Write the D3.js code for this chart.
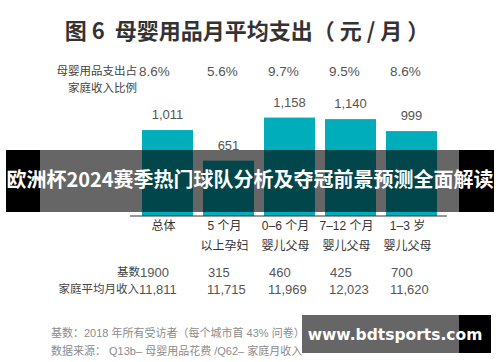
<!DOCTYPE html>
<html>
<head>
<meta charset="utf-8">
<script src="https://cdn.jsdelivr.net/npm/d3@7"></script>
<style>
  body { margin: 0; background: #fff; }
  text { font-family: "Liberation Sans", "Noto Sans CJK SC", sans-serif; white-space: pre; }
</style>
</head>
<body>
<script>
// chart data
const catLine1 = ["总体", "5 个月", "0–6 个月", "7–12 个月", "1–3 岁"];
const catLine2 = ["", "以上孕妇", "婴儿父母", "婴儿父母", "婴儿父母"];
const spend = [1011, 651, 1158, 1140, 999];
const share = ["8.6%", "5.6%", "9.7%", "9.5%", "8.6%"];
const base = [1900, 315, 460, 425, 700];
const income = [11811, 11715, 11969, 12023, 11620];

const width = 500;
const height = 362;

const svg = d3.select("body").append("svg").attr("width", width).attr("height", height);

//Title
svg.append("text")
  .attr("x", 247).attr("y", 39)
  .attr("text-anchor", "middle")
  .attr("font-size", 22).attr("font-weight", "bold")
  .attr("fill", "#333")
  .style("font-family", "'Noto Sans CJK SC', sans-serif")
  .text("图 6  母婴用品月平均支出（ 元 / 月 ）");

//Scales
const xScale = d3.scaleBand()
  .domain(d3.range(catLine1.length))
  .range([137, 442])
  .paddingInner(0.164)
  .paddingOuter(0.082);

const yScale = d3.scaleLinear().domain([0, 1200]).range([216, 114]);

const numFmt = d3.format(",");
const colStart = (i) => (i === 0 ? xScale(i) - 3 : xScale(i) + 4);

//Share row
svg.append("text").attr("x", 137).attr("y", 75).attr("text-anchor", "end")
  .attr("font-size", 11.5).attr("fill", "#444").text("母婴用品支出占");
svg.append("text").attr("x", 137).attr("y", 92).attr("text-anchor", "end")
  .attr("font-size", 11.5).attr("fill", "#444").text("家庭收入比例");
svg.selectAll(".share").data(share).enter().append("text")
  .attr("class", "share")
  .attr("x", (d, i) => colStart(i))
  .attr("y", 76)
  .attr("font-size", 13.5).attr("fill", "#555")
  .text((d) => d);

//Bars
svg.selectAll(".bar").data(spend).enter().append("rect")
  .attr("class", "bar")
  .attr("x", (d, i) => xScale(i))
  .attr("y", (d) => yScale(d))
  .attr("width", xScale.bandwidth())
  .attr("height", (d) => yScale(0) - yScale(d))
  .attr("fill", "#00aebb");

svg.selectAll(".val").data(spend).enter().append("text")
  .attr("class", "val")
  .attr("x", (d, i) => xScale(i) + xScale.bandwidth() / 2)
  .attr("y", (d) => yScale(d) - 11)
  .attr("text-anchor", "middle")
  .attr("font-size", 13).attr("fill", "#555")
  .text((d) => numFmt(d));

//Axis line
svg.append("line")
  .attr("x1", xScale.range()[0] - 7).attr("x2", xScale.range()[1] + 5)
  .attr("y1", yScale(0)).attr("y2", yScale(0))
  .attr("stroke", "#333").attr("stroke-width", 1);

//Category labels
catLine1.forEach((c, i) => {
  const cx = xScale(i) + xScale.bandwidth() / 2 - 4;
  svg.append("text").attr("x", cx).attr("y", 230).attr("text-anchor", "middle")
    .attr("font-size", 12).attr("fill", "#333").text(c);
  if (catLine2[i]) {
    svg.append("text").attr("x", cx).attr("y", 250).attr("text-anchor", "middle")
      .attr("font-size", 12).attr("fill", "#333").text(catLine2[i]);
  }
});

//Base and income rows
svg.append("text").attr("x", 140).attr("y", 276).attr("text-anchor", "end")
  .attr("font-size", 11.5).attr("fill", "#444").text("基数");
svg.append("text").attr("x", 139).attr("y", 293).attr("text-anchor", "end")
  .attr("font-size", 11.5).attr("fill", "#444").text("家庭平均月收入");
svg.selectAll(".base").data(base).enter().append("text")
  .attr("class", "base")
  .attr("x", (d, i) => colStart(i) + 1)
  .attr("y", 277)
  .attr("font-size", 13).attr("fill", "#555")
  .text((d) => d);
svg.selectAll(".inc").data(income).enter().append("text")
  .attr("class", "inc")
  .attr("x", (d, i) => colStart(i))
  .attr("y", 294)
  .attr("font-size", 13).attr("fill", "#555")
  .text((d) => numFmt(d));

//Footnotes
svg.append("text").attr("x", 51).attr("y", 337)
  .attr("font-size", 11).attr("fill", "#8c8c8c")
  .text("基数：2018 年所有受访者（每个城市首 43% 问卷）");
svg.append("text").attr("x", 51).attr("y", 355)
  .attr("font-size", 11).attr("fill", "#8c8c8c")
  .text("数据来源： Q13b– 母婴用品花费 /Q62– 家庭月收入");

//Banner overlay
svg.append("rect").attr("x", 6).attr("y", 150).attr("width", 34).attr("height", 62).attr("fill", "#000");
svg.append("rect").attr("x", 459).attr("y", 150).attr("width", 35).attr("height", 62).attr("fill", "#000");
svg.append("rect").attr("x", 40).attr("y", 150).attr("width", 419).attr("height", 62).attr("fill", "rgba(0,0,0,0.6)");
svg.append("text").attr("x", 250).attr("y", 187).attr("text-anchor", "middle")
  .attr("font-size", 20).attr("font-weight", "bold").attr("fill", "#fff")
  .style("font-family", "'Noto Sans CJK SC', sans-serif")
  .text("欧洲杯2024赛季热门球队分析及夺冠前景预测全面解读");

//Watermark
svg.append("rect").attr("x", 302).attr("y", 315).attr("width", 157).attr("height", 38).attr("fill", "rgba(0,0,0,0.6)");
svg.append("rect").attr("x", 459).attr("y", 315).attr("width", 32).attr("height", 38).attr("fill", "#000");
svg.append("text").attr("x", 395).attr("y", 340).attr("text-anchor", "middle")
  .attr("font-size", 15.5).attr("font-weight", "bold").attr("fill", "#fff")
  .style("font-family", "'DejaVu Sans', sans-serif")
  .text("www.bdtsports.com");
</script>
</body>
</html>
